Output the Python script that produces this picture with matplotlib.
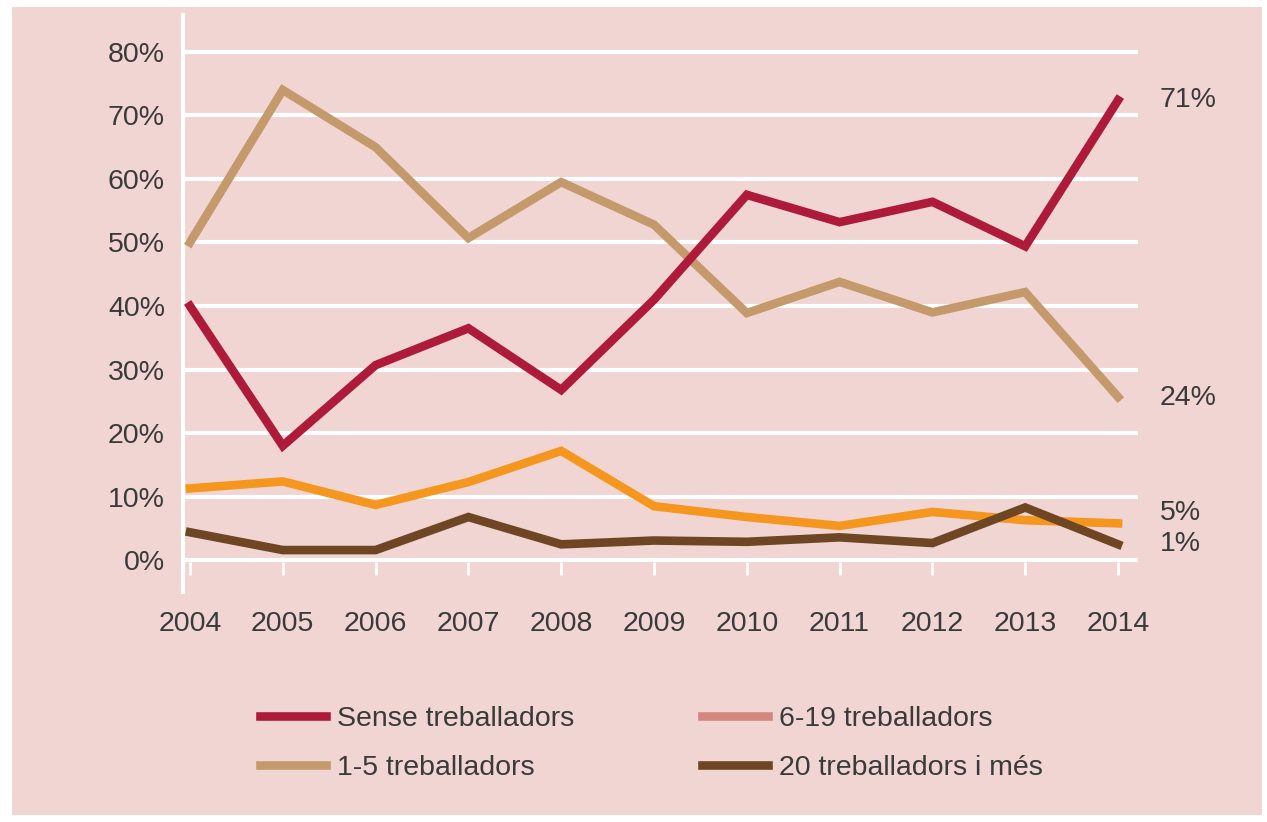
import matplotlib.pyplot as plt
from matplotlib.lines import Line2D
from matplotlib.patches import Rectangle

plt.rcParams['font.family'] = ['Liberation Sans', 'DejaVu Sans']

# Data (percent)
years = [2004, 2005, 2006, 2007, 2008, 2009, 2010, 2011, 2012, 2013, 2014]
sense = [40, 18, 30.7, 36.5, 26.8, 41, 57.5, 53.2, 56.4, 49.4, 72.4]
t1_5 = [50, 74, 65, 50.7, 59.5, 52.8, 38.9, 43.8, 39, 42.2, 25.7]
t6_19 = [11.3, 12.4, 8.7, 12.3, 17.2, 8.5, 6.8, 5.4, 7.6, 6.3, 5.8]
t20 = [4.4, 1.6, 1.6, 6.8, 2.5, 3.1, 2.9, 3.6, 2.7, 8.3, 2.5]
end_labels = ["71%", "24%", "5%", "1%"]
end_label_y = [72.4, 25.5, 7.4, 2.6]
yticks = [0, 10, 20, 30, 40, 50, 60, 70, 80]

bg = "#f0d5d3"
text_col = "#3a3a3a"
c_sense = "#ae1a39"
c_15 = "#c49a6c"
c_619 = "#f5961e"
c_619_leg = "#d4877f"
c_20 = "#6e4624"

fig = plt.figure(figsize=(12.67, 8.22), dpi=100)
fig.patch.set_facecolor("white")
fig.patches.append(Rectangle((12 / 1267, 7 / 822), 1250 / 1267, 808 / 822,
                             transform=fig.transFigure, facecolor=bg,
                             edgecolor="none", zorder=-1))

ax = fig.add_axes([183 / 1267, 1 - 592 / 822, 955 / 1267, 577 / 822])
ax.set_facecolor(bg)
ax.set_xlim(2003.925, 2014.215)
ax.set_ylim(-5.0, 85.8)

for y in yticks:
    ax.axhline(y, color="white", lw=3, zorder=1)
ax.vlines(years, -2.3, -0.3, color="white", lw=2, zorder=1)

lw = 6.2
ax.plot(years, t1_5, color=c_15, lw=lw, zorder=3, solid_joinstyle="miter")
ax.plot(years, sense, color=c_sense, lw=lw, zorder=4, solid_joinstyle="miter")
ax.plot(years, t6_19, color=c_619, lw=lw, zorder=3, solid_joinstyle="miter")
ax.plot(years, t20, color=c_20, lw=lw, zorder=3, solid_joinstyle="miter")

for s in ["top", "right", "bottom"]:
    ax.spines[s].set_visible(False)
ax.spines["left"].set_color("white")
ax.spines["left"].set_linewidth(3)

ax.set_yticks(yticks)
ax.set_yticklabels([f"{v}%" for v in yticks])
ax.set_xticks(years)
ax.set_xticklabels([str(y) for y in years])
ax.tick_params(axis="y", length=0, pad=13, labelsize=20.5, labelcolor=text_col)
ax.tick_params(axis="x", length=0, pad=14, labelsize=20.5, labelcolor=text_col)

for lab, yv in zip(end_labels, end_label_y):
    ax.text(2014.45, yv, lab, fontsize=20.5, color=text_col, va="center", ha="left",
            clip_on=False)

handles = [
    Line2D([], [], color=c_sense, lw=lw),
    Line2D([], [], color=c_15, lw=lw),
    Line2D([], [], color=c_619_leg, lw=lw),
    Line2D([], [], color=c_20, lw=lw),
]
labels = ["Sense treballadors", "1-5 treballadors", "6-19 treballadors",
          "20 treballadors i més"]
fig.legend(handles, labels, ncol=2, loc="upper left",
           bbox_to_anchor=(246 / 1267, 1 - 692 / 822), frameon=False,
           fontsize=20.5, labelcolor=text_col, handlelength=2.3,
           handletextpad=0.4, columnspacing=4.5, labelspacing=0.8,
           borderpad=0.0)

fig.savefig("out.png", dpi=100, facecolor=fig.get_facecolor())
